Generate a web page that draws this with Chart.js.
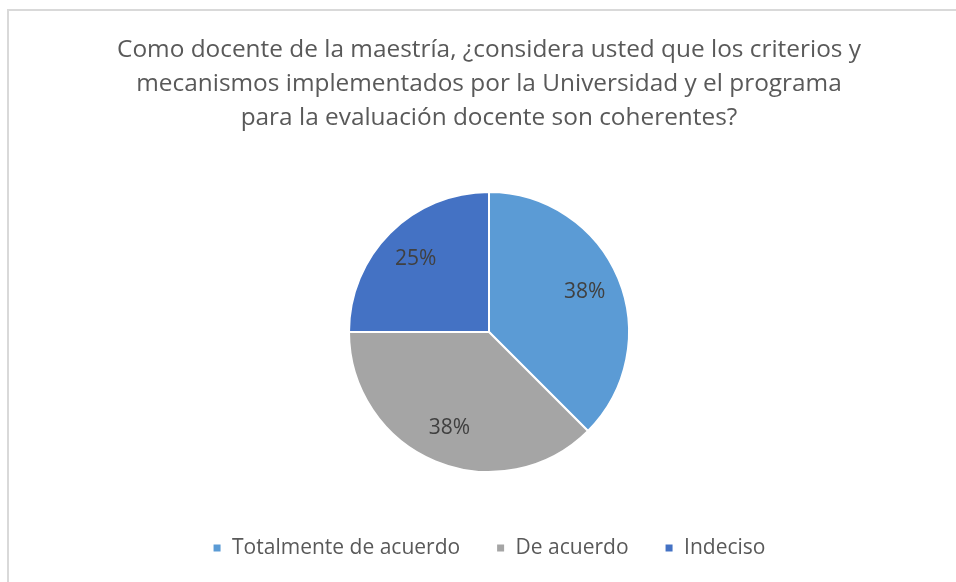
<!DOCTYPE html>
<html>
<head>
<meta charset="utf-8">
<script src="https://cdn.jsdelivr.net/npm/chart.js@4"></script>
<style>
  html, body { margin: 0; padding: 0; background: #fff; }
  #wrap { position: relative; width: 956px; height: 582px; }
  #frame { position: absolute; left: 7px; top: 9px; right: -4px; bottom: -4px;
           border-top: 2px solid #d9d9d9; border-left: 2px solid #d9d9d9; pointer-events: none; }
</style>
</head>
<body>
<div id="wrap">
  <canvas id="pieChart" width="956" height="582"></canvas>
  <div id="frame"></div>
</div>
<script>
const titleLines = [
  "Como docente de la maestría, ¿considera usted que los criterios y",
  "mecanismos implementados por la Universidad y el programa",
  "para la evaluación docente son coherentes?"
];
const categories = ["Totalmente de acuerdo", "De acuerdo", "Indeciso"];
const percentages = [37.5, 37.5, 25];
const sliceColors = ["#5b9bd5", "#a5a5a5", "#4472c4"];

const fontName = "'Open Sans', sans-serif";

// draws the percent text inside each slice
const sliceLabels = {
  id: "sliceLabels",
  afterDatasetsDraw(chart) {
    const { ctx } = chart;
    const meta = chart.getDatasetMeta(0);
    ctx.save();
    ctx.font = "21px " + fontName;
    ctx.fillStyle = "#404040";
    ctx.textAlign = "center";
    ctx.textBaseline = "middle";
    meta.data.forEach((arc, i) => {
      const { x, y, startAngle, endAngle, outerRadius } = arc.getProps(["x", "y", "startAngle", "endAngle", "outerRadius"], true);
      const mid = (startAngle + endAngle) / 2;
      const r = outerRadius * 0.74;
      ctx.fillText(Math.round(percentages[i]) + "%", x + Math.cos(mid) * r, y + Math.sin(mid) * r);
    });
    ctx.restore();
  }
};

new Chart(document.getElementById("pieChart"), {
  type: "pie",
  data: {
    labels: categories,
    datasets: [{
      data: percentages,
      backgroundColor: sliceColors,
      borderColor: "#ffffff",
      borderWidth: 2,
      radius: 140
    }]
  },
  plugins: [sliceLabels],
  options: {
    responsive: false,
    animation: false,
    layout: { padding: { left: 22, right: 0, top: 0, bottom: 13.5 } },
    plugins: {
      tooltip: { enabled: false },
      title: {
        display: true,
        text: titleLines,
        color: "#595959",
        font: { family: fontName, size: 24.4, weight: "normal", lineHeight: 1.393 },
        padding: { top: 33, bottom: 27.5 }
      },
      legend: {
        position: "bottom",
        labels: {
          color: "#595959",
          font: { family: fontName, size: 21 },
          boxWidth: 9,
          boxHeight: 9,
          padding: 36
        }
      }
    }
  }
});
</script>
</body>
</html>
